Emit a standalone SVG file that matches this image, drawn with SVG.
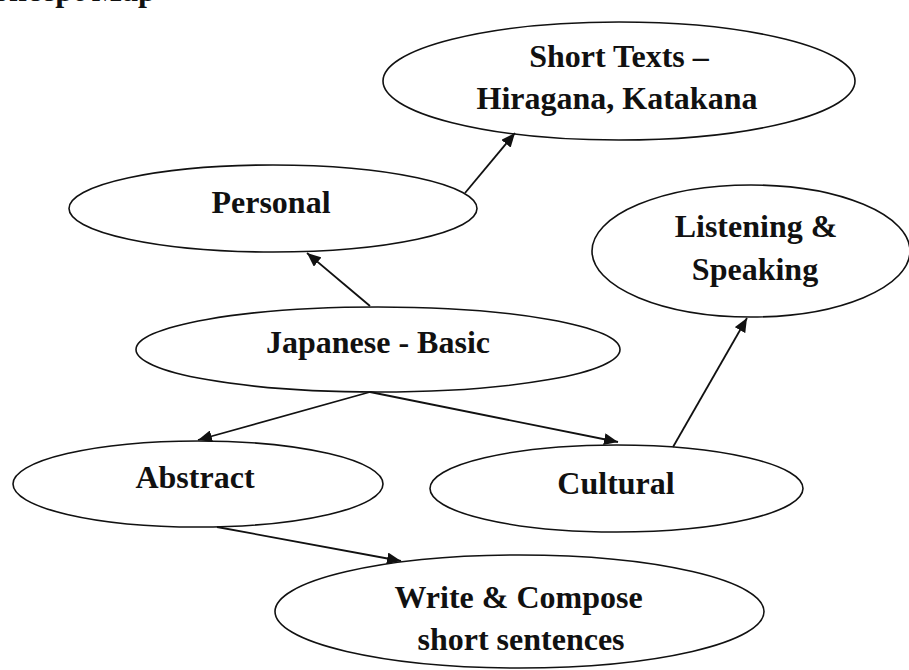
<svg xmlns="http://www.w3.org/2000/svg" width="909" height="670" viewBox="0 0 909 670">
  <style>
    .node ellipse { fill: #fff; stroke: #111; stroke-width: 1.6; }
    .node text, .title { font-family: "Liberation Serif", "Times New Roman", serif; font-weight: bold; font-size: 32px; fill: #111; text-anchor: middle; }
    .title { text-anchor: start; }
    .edge { stroke: #111; stroke-width: 1.8; fill: none; marker-end: url(#arrow); }
  </style>
  <defs>
    <marker id="arrow" markerUnits="userSpaceOnUse" markerWidth="16" markerHeight="12" refX="14" refY="6" orient="auto">
      <path d="M0,0 L14,6 L0,12 Z" fill="#111"/>
    </marker>
  </defs>
  <rect width="909" height="670" fill="#fff"/>

  <text class="title" x="-30" y="1">Concept Map</text>

  <!-- concept nodes -->
  <g id="short-texts" class="node">
    <ellipse cx="619" cy="81" rx="236" ry="59"/>
    <text x="619" y="67">Short Texts –</text>
    <text x="617" y="109">Hiragana, Katakana</text>
  </g>
  <g id="personal" class="node">
    <ellipse cx="273" cy="208.5" rx="204" ry="43.5"/>
    <text x="271" y="213">Personal</text>
  </g>
  <g id="listening" class="node">
    <ellipse cx="751" cy="251" rx="159" ry="66"/>
    <text x="756" y="237">Listening &amp;</text>
    <text x="755" y="280">Speaking</text>
  </g>
  <g id="japanese-basic" class="node">
    <ellipse cx="378" cy="349.5" rx="242" ry="42.5"/>
    <text x="378" y="353">Japanese - Basic</text>
  </g>
  <g id="abstract" class="node">
    <ellipse cx="198" cy="484" rx="185" ry="43"/>
    <text x="195" y="488">Abstract</text>
  </g>
  <g id="cultural" class="node">
    <ellipse cx="616.5" cy="488.5" rx="186.5" ry="43.5"/>
    <text x="616" y="494">Cultural</text>
  </g>
  <g id="write-compose" class="node">
    <ellipse cx="519.5" cy="611.5" rx="244.5" ry="56.5"/>
    <text x="518.5" y="608">Write &amp; Compose</text>
    <text x="521" y="650">short sentences</text>
  </g>

  <!-- connectors -->
  <g id="connectors">
    <line class="edge" x1="465" y1="193" x2="515" y2="133"/>
    <line class="edge" x1="370" y1="306" x2="307" y2="253"/>
    <line class="edge" x1="370" y1="392" x2="198" y2="440"/>
    <line class="edge" x1="370" y1="392" x2="618" y2="442"/>
    <line class="edge" x1="673" y1="447" x2="747" y2="318"/>
    <line class="edge" x1="217" y1="527" x2="401" y2="561"/>
  </g>
</svg>
